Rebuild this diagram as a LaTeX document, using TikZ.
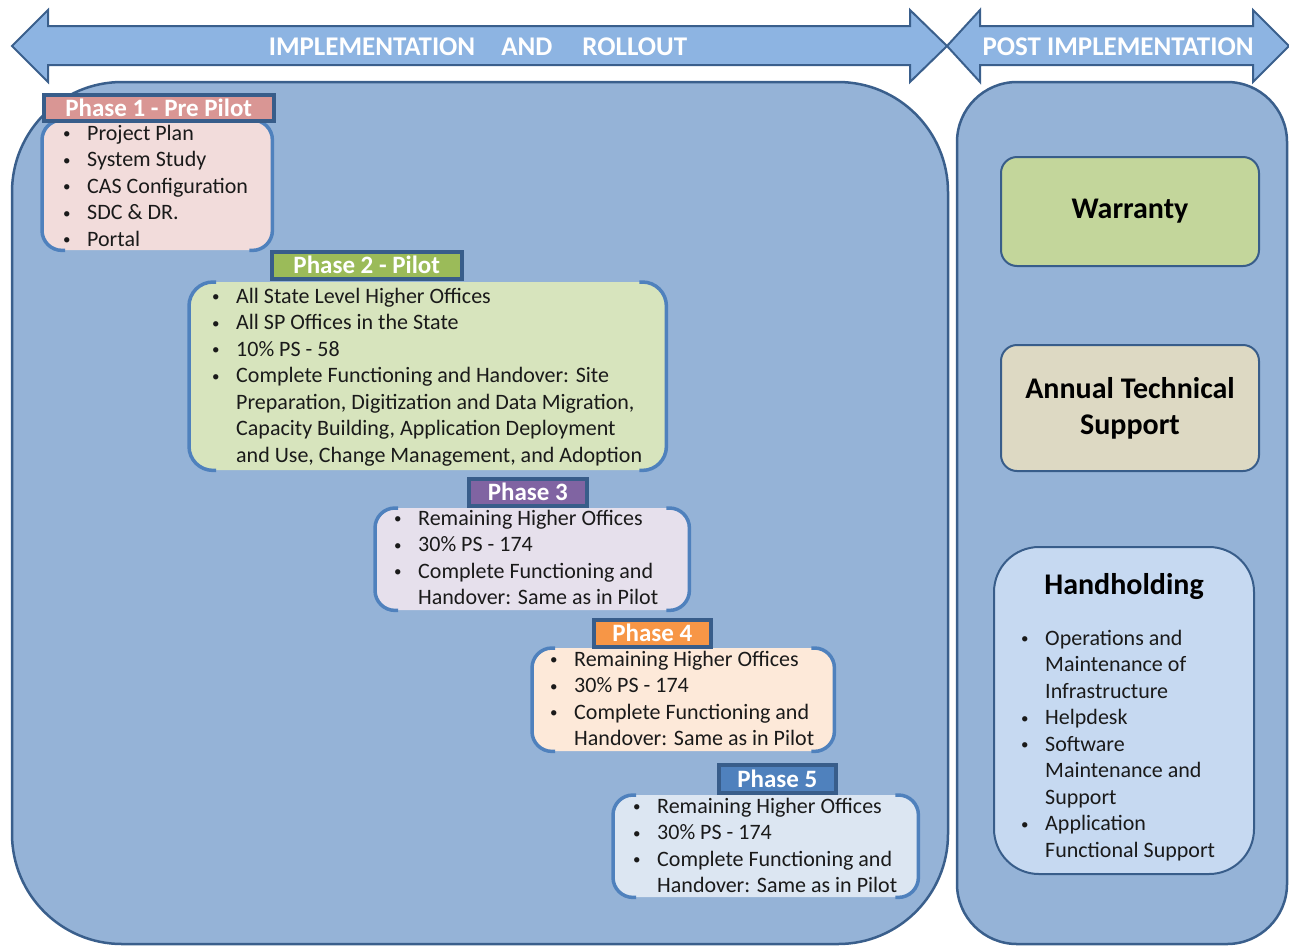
\documentclass[tikz,border=0pt]{standalone}
\usepackage{fontspec}
\setmainfont{Carlito}
\definecolor{bigfill}{HTML}{95B3D7}
\definecolor{bigdraw}{HTML}{3A5F8C}
\definecolor{arrfill}{HTML}{8DB4E2}
\definecolor{brkcol}{HTML}{4F81BD}
\definecolor{hdrdraw}{HTML}{385D8A}
\definecolor{hOne}{HTML}{D99694}\definecolor{bOne}{HTML}{F2DCDB}
\definecolor{hTwo}{HTML}{9BBB59}\definecolor{bTwo}{HTML}{D7E4BD}
\definecolor{hThree}{HTML}{8064A2}\definecolor{bThree}{HTML}{E6E0EC}
\definecolor{hFour}{HTML}{F79646}\definecolor{bFour}{HTML}{FDE9D9}
\definecolor{hFive}{HTML}{4F81BD}\definecolor{bFive}{HTML}{DCE6F2}
\definecolor{warr}{HTML}{C3D69B}
\definecolor{ats}{HTML}{DDD9C3}
\definecolor{hand}{HTML}{C6D9F1}
\definecolor{txt}{HTML}{1A1A1A}
\newcommand{\bul}[1]{\par\hangindent=24pt\hangafter=1\noindent\makebox[24pt][l]{\raisebox{1.5pt}{\fontsize{15}{15}\selectfont\textbullet}}#1}
\newcommand{\bracketpair}[2]{%
  \draw[brk, rounded corners=#2] ([xshift=#2+3]#1.north west) -- (#1.north west) -- (#1.south west) -- ([xshift=#2+3]#1.south west);
  \draw[brk, rounded corners=#2] ([xshift=-#2-3]#1.north east) -- (#1.north east) -- (#1.south east) -- ([xshift=-#2-3]#1.south east);}
\tikzset{
  brk/.style={draw=brkcol, line width=3.5pt},
  bodybox/.style={rounded corners=#1, inner sep=0pt, anchor=north west},
  hdr/.style={draw=hdrdraw, line width=3.5pt, inner sep=0pt, anchor=north west, text=white,
    font=\bfseries\fontsize{25}{28}\selectfont},
  blist/.style={anchor=base west, inner sep=0pt, text=txt, font=\fontsize{22}{26.5}\selectfont},
  arrtext/.style={text=white, font=\bfseries\fontsize{27}{30}\selectfont, inner sep=0pt},
  sidebox/.style={draw=hdrdraw, line width=2pt, text=black, align=center,
    font=\bfseries\fontsize{30}{36}\selectfont, inner sep=0pt, anchor=north west},
}
\begin{document}
\begin{tikzpicture}[x=1pt,y=-1pt]
\useasboundingbox (0,0) rectangle (1289,946);
% big panels
\draw[fill=bigfill, draw=bigdraw, line width=2.5pt, rounded corners=110] (12,82) rectangle (948,944);
\draw[fill=bigfill, draw=bigdraw, line width=2.5pt, rounded corners=60] (957,82) rectangle (1287,944);
% arrows
\draw[fill=arrfill, draw=bigdraw, line width=2pt, line join=miter]
  (12,46) -- (48,10) -- (48,26) -- (910,26) -- (910,10) -- (947,46) -- (910,82) -- (910,65) -- (48,65) -- (48,82) -- cycle;
\draw[fill=arrfill, draw=bigdraw, line width=2pt, line join=miter]
  (947,46) -- (980,10) -- (980,26) -- (1253,26) -- (1253,10) -- (1289,46) -- (1253,82) -- (1253,65) -- (980,65) -- (980,82) -- cycle;
\node[arrtext] (impl) at (478,47) {IMPLEMENTATION\hspace{26pt}AND\hspace{30pt}ROLLOUT};
\node[arrtext] (post) at (1118,47) {POST IMPLEMENTATION};
% Phase 1
\node[bodybox=20, fill=bOne, minimum width=230, minimum height=130] (b1) at (42,120) {};
\bracketpair{b1}{20}
\node[hdr, fill=hOne, minimum width=230, minimum height=26] (h1) at (42,93) {\raisebox{1pt}{Phase 1 - Pre Pilot}};
\node[blist] (t1) at (63,140) {\parbox[t]{220pt}{\bul{Project Plan}\bul{System Study}\bul{CAS Configuration}\bul{SDC \& DR.}\bul{Portal}}};
% Phase 2
\node[bodybox=24, fill=bTwo, minimum width=477, minimum height=188] (b2) at (189,282) {};
\bracketpair{b2}{24}
\node[hdr, fill=hTwo, minimum width=190, minimum height=27] (h2) at (270,250) {\raisebox{1pt}{Phase 2 - Pilot}};
\node[blist] (t2) at (212,303) {\parbox[t]{460pt}{\bul{All State Level Higher Offices}\bul{All SP Offices in the State}\bul{10\% PS - 58}\bul{Complete Functioning and Handover: Site\newline Preparation, Digitization and Data Migration,\newline Capacity Building, Application Deployment\newline and Use, Change Management, and Adoption}}};
% Phase 3
\node[bodybox=20, fill=bThree, minimum width=314, minimum height=102] (b3) at (375,508) {};
\bracketpair{b3}{20}
\node[hdr, fill=hThree, minimum width=118, minimum height=27] (h3) at (467,477) {\raisebox{1pt}{Phase 3}};
\node[blist] (t3) at (394,525) {\parbox[t]{300pt}{\bul{Remaining Higher Offices}\bul{30\% PS - 174}\bul{Complete Functioning and\newline Handover: Same as in Pilot}}};
% Phase 4
\node[bodybox=20, fill=bFour, minimum width=302, minimum height=103] (b4) at (532,648) {};
\bracketpair{b4}{20}
\node[hdr, fill=hFour, minimum width=117, minimum height=27] (h4) at (592,618) {\raisebox{1pt}{Phase 4}};
\node[blist] (t4) at (550,666) {\parbox[t]{300pt}{\bul{Remaining Higher Offices}\bul{30\% PS - 174}\bul{Complete Functioning and\newline Handover: Same as in Pilot}}};
% Phase 5
\node[bodybox=20, fill=bFive, minimum width=305, minimum height=102] (b5) at (613,795) {};
\bracketpair{b5}{20}
\node[hdr, fill=hFive, minimum width=117, minimum height=28] (h5) at (717,763) {\raisebox{1pt}{Phase 5}};
\node[blist] (t5) at (633,813) {\parbox[t]{300pt}{\bul{Remaining Higher Offices}\bul{30\% PS - 174}\bul{Complete Functioning and\newline Handover: Same as in Pilot}}};
% right column
\node[sidebox, fill=warr, rounded corners=16, minimum width=258, minimum height=109] (war) at (1000,156) {Warranty};
\node[sidebox, fill=ats, rounded corners=16, minimum width=258, minimum height=126] (ats) at (1000,344) {Annual Technical\\Support};
\node[draw=hdrdraw, line width=2pt, fill=hand, rounded corners=45, minimum width=260, minimum height=327, anchor=north west, inner sep=0pt] (hh) at (993,546) {};
\node[text=black, font=\bfseries\fontsize{30}{34}\selectfont, inner sep=0pt] (hht) at (1124,587) {Handholding};
\node[blist] (hhl) at (1021,645) {\parbox[t]{230pt}{\bul{Operations and\newline Maintenance of\newline Infrastructure}\bul{Helpdesk}\bul{Software\newline Maintenance and\newline Support}\bul{Application\newline Functional Support}}};
\end{tikzpicture}
\end{document}
